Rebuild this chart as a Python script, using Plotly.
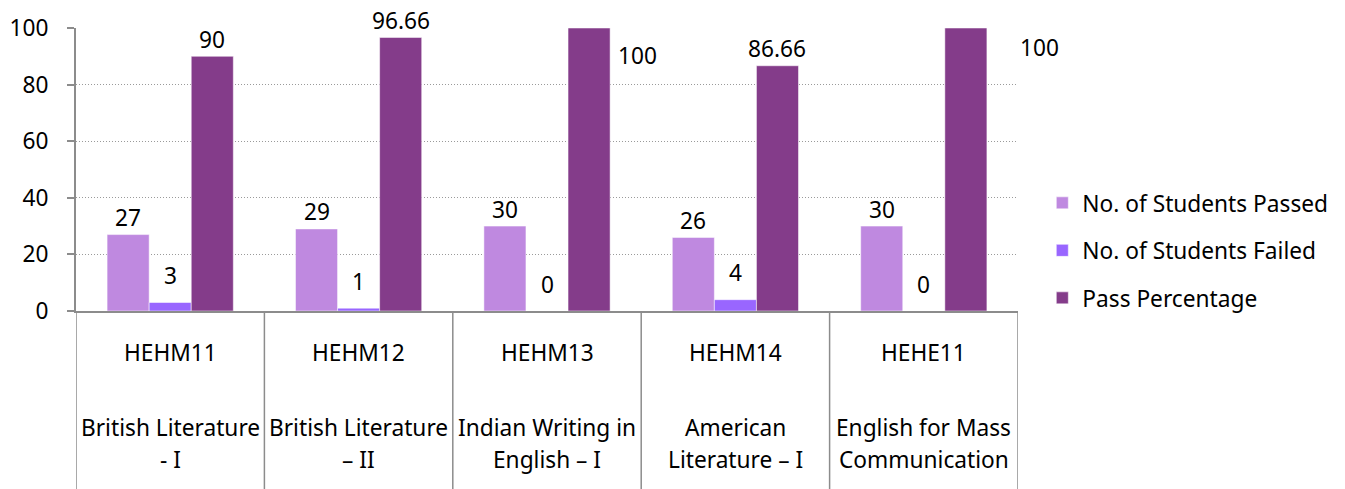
import plotly.graph_objects as go

codes = ["HEHM11", "HEHM12", "HEHM13", "HEHM14", "HEHE11"]
title_line1 = ["British Literature", "British Literature", "Indian Writing in", "American", "English for Mass"]
title_line2 = ["- I", "– II", "English – I", "Literature – I", "Communication"]
passed = [27, 29, 30, 26, 30]
failed = [3, 1, 0, 4, 0]
pass_pct = [90, 96.66, 100, 86.66, 100]
pct_text = ["90", "96.66", "100", "86.66", "100"]

series_names = ["No. of Students Passed", "No. of Students Failed", "Pass Percentage"]
colors = ["#BF89E0", "#9966FF", "#843C8A"]
FONT = "Noto Sans"
FS = 22.7

fig = go.Figure()
for k, (name, vals) in enumerate(zip(series_names, [passed, failed, pass_pct])):
    fig.add_trace(go.Bar(
        x=codes, y=vals, name=name, marker_color=colors[k],
        marker_line=dict(color="rgba(255,255,255,0.5)", width=1),
        legendgroup=str(k),
    ))

# data labels
bar_dx = [-42, 0, 42]
annos = []
for i, c in enumerate(codes):
    annos.append(dict(x=c, y=passed[i], text=str(passed[i]), xshift=bar_dx[0], yshift=17))
    annos.append(dict(x=c, y=failed[i], text=str(failed[i]), xshift=bar_dx[1], yshift=27))
    if pass_pct[i] >= 100:
        shift_x = 48 if i == 2 else 74
        shift_y = -27 if i == 2 else -19
        annos.append(dict(x=c, y=pass_pct[i], text=pct_text[i], xshift=bar_dx[2] + shift_x, yshift=shift_y))
    else:
        annos.append(dict(x=c, y=pass_pct[i], text=pct_text[i], xshift=bar_dx[2], yshift=17))
for a in annos:
    a.update(showarrow=False, font=dict(family=FONT, size=FS, color="black"), xref="x", yref="y")

# category labels below axis
for i, c in enumerate(codes):
    for txt, yy in ((c, -0.145), (title_line1[i], -0.41), (title_line2[i], -0.5265)):
        annos.append(dict(x=c, y=yy, xref="x", yref="paper", text=txt, showarrow=False,
                          font=dict(family=FONT, size=FS, color="black"), yanchor="middle"))

shapes = []
for j in range(len(codes) + 1):
    shapes.append(dict(type="line", xref="x", yref="paper", x0=j - 0.5, x1=j - 0.5,
                       y0=0, y1=-0.66, line=dict(color="#8C8C8C", width=1.5)))

fig.update_layout(
    width=1345, height=489,
    margin=dict(l=68, r=335, t=20, b=186, autoexpand=False),
    paper_bgcolor="white", plot_bgcolor="white",
    barmode="group", bargap=0.33, bargroupgap=0,
    font=dict(family=FONT, size=FS, color="black"),
    annotations=annos, shapes=shapes,
    legend=dict(xref="container", yref="container", x=0.769, y=0.645, xanchor="left", yanchor="top",
                font=dict(family=FONT, size=FS, color="black"), tracegroupgap=15,
                itemwidth=30, bgcolor="rgba(0,0,0,0)"),
    xaxis=dict(showticklabels=False, showline=True, linecolor="#8C8C8C", linewidth=2,
               ticks="", showgrid=False, range=[-0.5, 4.5], fixedrange=True, automargin=False),
    yaxis=dict(range=[0, 100], dtick=20, showgrid=True, gridcolor="#9A9A9A", griddash="1px,2px",
               gridwidth=1.2, showline=True, linecolor="#8C8C8C", linewidth=2, ticks="outside",
               ticklen=7, tickcolor="#8C8C8C", tickwidth=1.5, ticklabelstandoff=14, automargin=False,
               tickfont=dict(family=FONT, size=FS, color="black"), zeroline=False),
)

fig.write_html("out.html")
